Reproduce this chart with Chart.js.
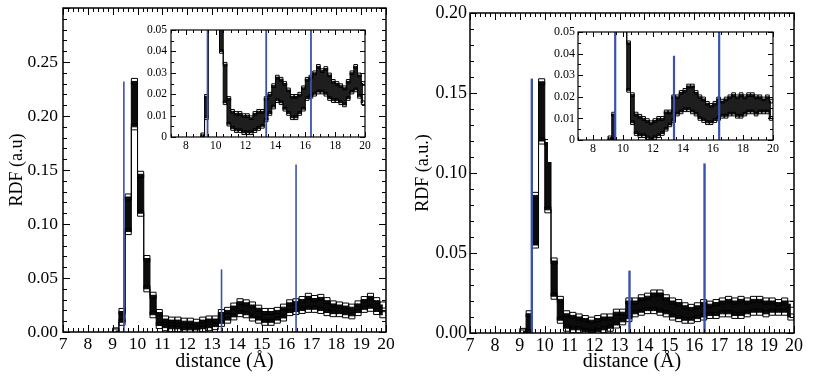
<!DOCTYPE html>
<html><head><meta charset="utf-8">
<script src="https://cdn.jsdelivr.net/npm/chart.js@4.4.0/dist/chart.umd.min.js"></script>
<style>
html,body{margin:0;padding:0;background:#fff;width:830px;height:386px;overflow:hidden;}
canvas{position:absolute;}
</style></head><body>
<canvas id="mainL" style="left:0px;top:0px" width="415" height="386"></canvas>
<canvas id="mainR" style="left:400px;top:0px" width="430" height="386"></canvas>
<canvas id="insetL" style="left:143px;top:22px" width="232" height="135"></canvas>
<canvas id="insetR" style="left:548px;top:24px" width="235" height="138"></canvas>
<script>
// ---- data ----
const binCenters = [9.125, 9.375, 9.625, 9.875, 10.125, 10.375, 10.625, 10.875, 11.125, 11.375, 11.625, 11.875,
  12.125, 12.375, 12.625, 12.875, 13.125, 13.375, 13.625, 13.875, 14.125, 14.375, 14.625, 14.875,
  15.125, 15.375, 15.625, 15.875, 16.125, 16.375, 16.625, 16.875, 17.125, 17.375, 17.625, 17.875,
  18.125, 18.375, 18.625, 18.875, 19.125, 19.375, 19.625, 19.875];

const leftUpper = [0.001, 0.019, 0.125, 0.232, 0.146, 0.068, 0.034, 0.018, 0.012, 0.011, 0.011, 0.010,
  0.010, 0.009, 0.011, 0.012, 0.012, 0.018, 0.020, 0.024, 0.028, 0.027, 0.025, 0.022,
  0.019, 0.019, 0.020, 0.023, 0.027, 0.028, 0.030, 0.033, 0.031, 0.032, 0.029, 0.026,
  0.025, 0.024, 0.023, 0.026, 0.030, 0.033, 0.029, 0.025];
const leftLower = [0.000, 0.009, 0.093, 0.190, 0.110, 0.040, 0.016, 0.006, 0.004, 0.003, 0.003, 0.002,
  0.002, 0.002, 0.003, 0.004, 0.005, 0.008, 0.011, 0.014, 0.017, 0.016, 0.013, 0.011,
  0.009, 0.009, 0.011, 0.013, 0.018, 0.019, 0.020, 0.021, 0.021, 0.020, 0.018, 0.017,
  0.017, 0.016, 0.015, 0.018, 0.021, 0.022, 0.019, 0.016];

const rightUpper = [0.001, 0.012, 0.086, 0.157, 0.119, 0.045, 0.021, 0.012, 0.011, 0.010, 0.009, 0.008,
  0.009, 0.010, 0.010, 0.013, 0.013, 0.020, 0.020, 0.022, 0.023, 0.025, 0.025, 0.022,
  0.020, 0.019, 0.017, 0.016, 0.017, 0.019, 0.018, 0.019, 0.020, 0.021, 0.020, 0.021,
  0.020, 0.021, 0.021, 0.020, 0.020, 0.019, 0.020, 0.018];
const rightLower = [0.000, 0.000, 0.055, 0.120, 0.077, 0.023, 0.008, 0.003, 0.002, 0.002, 0.001, 0.000,
  0.001, 0.002, 0.003, 0.005, 0.007, 0.009, 0.012, 0.013, 0.014, 0.014, 0.013, 0.012,
  0.010, 0.009, 0.008, 0.008, 0.009, 0.010, 0.011, 0.011, 0.012, 0.012, 0.011, 0.011,
  0.012, 0.013, 0.013, 0.012, 0.013, 0.013, 0.013, 0.010];

const leftMarkerX = [9.45, 13.38, 16.38];
const leftMarkerH = [0.232, 0.058, 0.155];
const rightMarkerX = [9.48, 13.40, 16.41];
const rightMarkerH = [0.159, 0.039, 0.106];

const mainXTicks = [7, 8, 9, 10, 11, 12, 13, 14, 15, 16, 17, 18, 19, 20];
const insetXTicks = [8, 10, 12, 14, 16, 18, 20];
const leftYTicks = [0, 0.05, 0.10, 0.15, 0.20, 0.25];
const rightYTicks = [0, 0.05, 0.10, 0.15, 0.20];
const insetYTicks = [0, 0.01, 0.02, 0.03, 0.04, 0.05];

// ---- drawing ----
const SERIF = 'Liberation Serif';
const BLUE = '#3b52ad';

const frameTicks = {
  id: 'frameTicks',
  beforeDraw(chart, args, o) {
    if (o.bg) { const c = chart.ctx; c.save(); c.fillStyle = '#fff'; c.fillRect(0, 0, chart.width, chart.height); c.restore(); }
  },
  afterDraw(chart, args, o) {
    const ctx = chart.ctx, a = chart.chartArea, x = chart.scales.x, y = chart.scales.y;
    ctx.save();
    ctx.strokeStyle = '#000';
    ctx.lineWidth = 1;
    const tick = (s, minor, major, horiz) => {
      const n = Math.round((s.max - s.min) / minor);
      for (let i = 0; i <= n; i++) {
        const v = s.min + i * minor;
        const r = v / major;
        const isMaj = Math.abs(r - Math.round(r)) < 1e-6;
        const len = isMaj ? o.majLen : o.minLen;
        const p = Math.round(s.getPixelForValue(v)) + 0.5;
        ctx.beginPath();
        if (horiz) {
          ctx.moveTo(p, a.bottom); ctx.lineTo(p, a.bottom - len);
          ctx.moveTo(p, a.top); ctx.lineTo(p, a.top + len);
        } else {
          ctx.moveTo(a.left, p); ctx.lineTo(a.left + len, p);
          ctx.moveTo(a.right, p); ctx.lineTo(a.right - len, p);
        }
        ctx.stroke();
      }
    };
    tick(x, o.xMinor, o.xMajor, true);
    tick(y, o.yMinor, o.yMajor, false);
    ctx.lineWidth = o.frameW;
    ctx.strokeRect(a.left, a.top, a.right - a.left, a.bottom - a.top);
    ctx.restore();
  }
};

function bandSets(upper, lower, r, fillColor) {
  const common = { stepped: 'middle', borderColor: '#000', borderWidth: 1, pointStyle: 'rect',
    pointRadius: r, pointBackgroundColor: 'rgba(0,0,0,0)', pointBorderColor: '#000', pointBorderWidth: 1, order: 1 };
  return [
    Object.assign({ data: binCenters.map((x, i) => ({ x: x, y: upper[i] })), fill: false }, common),
    Object.assign({ data: binCenters.map((x, i) => ({ x: x, y: lower[i] })), fill: '-1', backgroundColor: fillColor }, common)
  ];
}
function markerSets(xs, hs, w) {
  return xs.map((x, i) => ({ data: [{ x: x, y: 0 }, { x: x, y: hs[i] }], borderColor: BLUE, borderWidth: w,
    pointRadius: 0, fill: false, order: 0 }));
}

function makeChart(id, p) {
  new Chart(document.getElementById(id), {
    type: 'line',
    data: { datasets: bandSets(p.upper, p.lower, p.r, p.fill).concat(markerSets(p.mx, p.mh, p.mw)) },
    plugins: [frameTicks],
    options: {
      responsive: false, animation: false, devicePixelRatio: 1, events: [],
      layout: { padding: p.pad },
      plugins: { legend: { display: false }, tooltip: { enabled: false }, frameTicks: p.ft },
      scales: {
        x: {
          type: 'linear', min: 7, max: 20,
          afterBuildTicks: s => { s.ticks = p.xTicks.map(v => ({ value: v })); },
          afterFit: s => { s.height = p.xH; s.paddingLeft = 0; s.paddingRight = 0; },
          grid: { display: false, drawTicks: false }, border: { display: false },
          ticks: { font: { family: SERIF, size: p.tickFont }, color: '#000', padding: p.xPad, maxRotation: 0, autoSkip: false,
            callback: v => String(v) },
          title: { display: !!p.xTitle, text: p.xTitle, color: '#000', font: { family: SERIF, size: p.titleFont }, padding: { top: 0, bottom: p.xTitlePad } }
        },
        y: {
          type: 'linear', min: 0, max: p.yMax,
          afterBuildTicks: s => { s.ticks = p.yTicks.map(v => ({ value: v })); },
          afterFit: s => { s.width = p.yW; s.paddingTop = 0; s.paddingBottom = 0; },
          grid: { display: false, drawTicks: false }, border: { display: false },
          ticks: { font: { family: SERIF, size: p.tickFont }, color: '#000', padding: p.yPad, autoSkip: false,
            callback: p.yFmt },
          title: { display: !!p.yTitle, text: p.yTitle, color: '#000', font: { family: SERIF, size: p.yTitleFont || p.titleFont }, padding: { top: p.yTitlePad, bottom: 0 } }
        }
      }
    }
  });
}

const mainFmt = v => v.toFixed(2);
const insetFmt = v => (v === 0 ? '0' : v.toFixed(2));

makeChart('mainL', {
  upper: leftUpper, lower: leftLower, r: 4.3, fill: '#0c0c0c',
  mx: leftMarkerX, mh: leftMarkerH, mw: 1.6,
  pad: { left: 0, top: 8, right: 29, bottom: 0 },
  xTicks: mainXTicks, yTicks: leftYTicks, yMax: 0.30,
  xH: 54, yW: 63, tickFont: 17.5, titleFont: 20, yTitleFont: 18,
  xPad: 2, yPad: 5, xTitle: 'distance (Å)', xTitlePad: 12, yTitle: 'RDF (a.u)', yTitlePad: 6,
  yFmt: mainFmt,
  ft: { xMinor: 0.2, xMajor: 1, yMinor: 0.01, yMajor: 0.05, majLen: 7, minLen: 4, frameW: 1.5, bg: false }
});

makeChart('mainR', {
  upper: rightUpper, lower: rightLower, r: 4.3, fill: '#0c0c0c',
  mx: rightMarkerX, mh: rightMarkerH, mw: 2.4,
  pad: { left: 0, top: 13, right: 36, bottom: 0 },
  xTicks: mainXTicks, yTicks: rightYTicks, yMax: 0.20,
  xH: 53, yW: 70, tickFont: 18, titleFont: 20, yTitleFont: 18,
  xPad: 2, yPad: 3, xTitle: 'distance (Å)', xTitlePad: 12, yTitle: 'RDF (a.u.)', yTitlePad: 12,
  yFmt: mainFmt,
  ft: { xMinor: 0.2, xMajor: 1, yMinor: 0.01, yMajor: 0.05, majLen: 7, minLen: 4, frameW: 1.5, bg: false }
});

makeChart('insetL', {
  upper: leftUpper, lower: leftLower, r: 2.6, fill: '#1e1e1e',
  mx: leftMarkerX, mh: leftMarkerH, mw: 1.8,
  pad: { left: 0, top: 8, right: 10, bottom: 0 },
  xTicks: insetXTicks, yTicks: insetYTicks, yMax: 0.05,
  xH: 20, yW: 28, tickFont: 11.5, titleFont: 11,
  xPad: 2, yPad: 4, xTitle: '', xTitlePad: 0, yTitle: '', yTitlePad: 0,
  yFmt: insetFmt,
  ft: { xMinor: 0.5, xMajor: 2, yMinor: 0.005, yMajor: 0.01, majLen: 5, minLen: 3, frameW: 1.2, bg: true }
});

makeChart('insetR', {
  upper: rightUpper, lower: rightLower, r: 2.6, fill: '#1e1e1e',
  mx: rightMarkerX, mh: rightMarkerH, mw: 2.2,
  pad: { left: 0, top: 8, right: 10, bottom: 0 },
  xTicks: insetXTicks, yTicks: insetYTicks, yMax: 0.05,
  xH: 22, yW: 30, tickFont: 12, titleFont: 11,
  xPad: 2, yPad: 3, xTitle: '', xTitlePad: 0, yTitle: '', yTitlePad: 0,
  yFmt: insetFmt,
  ft: { xMinor: 0.5, xMajor: 2, yMinor: 0.005, yMajor: 0.01, majLen: 5, minLen: 3, frameW: 1.2, bg: true }
});
</script>
</body></html>
